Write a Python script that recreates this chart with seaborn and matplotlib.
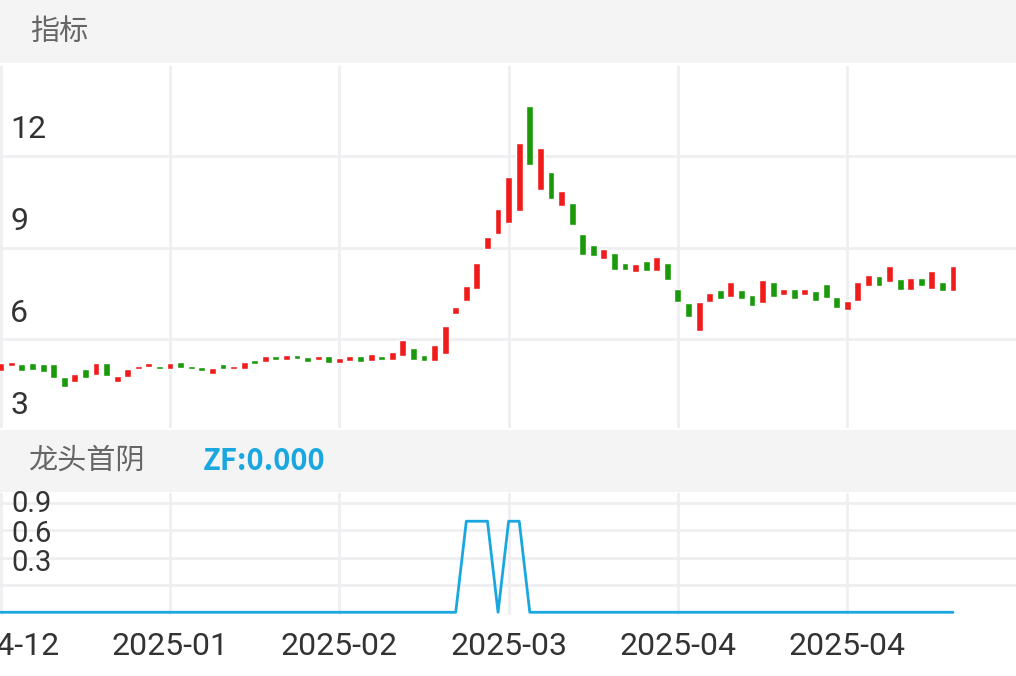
import matplotlib
matplotlib.use("Agg")
import matplotlib.pyplot as plt
import seaborn as sns
import pandas as pd

sns.set_style("white")
plt.rcParams['font.family'] = ['Roboto', 'Noto Sans CJK SC', 'DejaVu Sans']

opens = [4.12,4.27,4.34,4.39,4.33,4.34,3.91,3.76,4.17,3.99,4.39,3.76,3.92,4.17,4.24,4.27,4.18,4.40,4.29,4.26,
         4.01,4.33,4.17,4.18,4.49,4.41,4.61,4.49,4.63,4.57,4.48,4.62,4.38,4.44,4.59,4.44,4.59,4.49,4.59,4.86,
         4.63,4.44,4.66,5.97,6.42,6.81,8.09,8.58,8.97,9.36,12.78,10.04,10.63,9.51,9.62,8.61,8.25,7.79,7.96,7.66,
         7.34,7.70,7.40,7.66,6.78,6.33,5.41,6.36,6.75,6.55,6.75,6.59,6.33,7.01,6.59,6.78,6.59,6.72,6.95,6.55,
         6.10,6.39,6.91,7.21,7.04,7.11,6.75,7.17,6.81,7.01,6.72]
closes = [4.38,4.40,4.12,4.14,4.09,3.87,3.60,4.03,3.88,4.36,3.95,3.95,4.18,4.29,4.36,4.17,4.36,4.22,4.17,4.10,
          4.21,4.18,4.27,4.40,4.35,4.59,4.49,4.63,4.52,4.41,4.62,4.39,4.53,4.59,4.40,4.66,4.47,4.73,5.14,4.49,
          4.44,4.98,5.57,6.20,6.88,7.66,8.51,9.42,10.47,11.58,10.86,11.41,9.75,10.01,8.90,7.92,7.86,8.12,7.43,7.43,
          7.63,7.40,7.83,7.08,6.36,5.87,6.36,6.68,6.46,7.04,6.46,6.23,7.08,6.52,6.78,6.46,6.81,6.39,6.49,6.16,
          6.42,7.01,7.27,6.88,7.56,6.75,7.14,6.88,7.40,6.72,7.56]
zf = [0]*44 + [1,1,1,0,1,1] + [0]*41
tick_idx = [0,16,32,48,64,80]
tick_labels = ["2024-12","2025-01","2025-02","2025-03","2025-04","2025-04"]
main_grid = [5.15,8.15,11.15]
main_labels = [3,6,9,12]
sub_grid = [0.3,0.6,0.9,1.2]
sub_labels = [(1.19,"0.9"),(0.86,"0.6"),(0.545,"0.3")]

df = pd.DataFrame({"i": range(len(opens)), "o": opens, "c": closes, "zf": zf})
RED, GREEN, GRID, BLUE = "#f01c1c", "#1a9a0a", "#efeff1", "#1aa7e0"
W, H = 1016, 676
fig = plt.figure(figsize=(W/100, H/100), dpi=100)
fig.patch.set_facecolor("white")

def band(y0, y1, items):
    ax = fig.add_axes([0, 1-y1/H, 1, (y1-y0)/H])
    ax.set_facecolor("#f4f4f4"); ax.set_xticks([]); ax.set_yticks([])
    for s in ax.spines.values(): s.set_visible(False)
    for x, t, col, fw in items:
        ax.text(x/W, 0.5, t, color=col, fontsize=21, fontweight=fw, va="center", ha="left",
                transform=ax.transAxes, family=['Noto Sans CJK SC', 'DejaVu Sans'])
band(0, 63, [(30, "指标", "#666666", "normal")])
band(430, 492, [(28, "龙头首阴", "#666666", "normal"), (203, "ZF:0.000", BLUE, "bold")])

xlim = (-0.07, 95.95)
ax = fig.add_axes([0, 1-428/H, 1, (428-66)/H])
up = df[df.c >= df.o]; dn = df[df.c < df.o]
ax.bar(up.i, up.c-up.o, bottom=up.o, width=0.65, color=RED, zorder=3)
ax.bar(dn.i, dn.c-dn.o, bottom=dn.o, width=0.65, color=GREEN, zorder=3)
ax.set_xlim(*xlim); ax.set_ylim(2.25, 14.09)
for g in main_grid: ax.axhline(g, color=GRID, lw=2, zorder=1)
for t in tick_idx: ax.axvline(t, color=GRID, lw=2, zorder=1)
ax.set_xticks([]); ax.set_yticks([])
for v in main_labels:
    ax.text(10/W, v, str(v), transform=ax.get_yaxis_transform(), fontsize=23, color="#333333", va="center")
for s in ax.spines.values(): s.set_visible(False)

ax2 = fig.add_axes([0, 1-615/H, 1, (615-493)/H])
sns.lineplot(data=df, x="i", y="zf", ax=ax2, color=BLUE, lw=2, zorder=3)
ax2.set_xlim(*xlim); ax2.set_ylim(-0.03, 1.31)
for g in sub_grid: ax2.axhline(g, color=GRID, lw=2, zorder=1)
for t in tick_idx: ax2.axvline(t, color=GRID, lw=2, zorder=1)
ax2.set_yticks([]); ax2.set_ylabel(""); ax2.set_xlabel("")
for v, t in sub_labels:
    ax2.text(11/W, v, t, transform=ax2.get_yaxis_transform(), fontsize=21, color="#333333", va="center")
ax2.set_xticks(tick_idx); ax2.set_xticklabels(tick_labels, fontsize=23, color="#333333")
ax2.tick_params(axis="x", length=0, pad=12)
for s in ax2.spines.values(): s.set_visible(False)

fig.savefig("out.png", dpi=100)
